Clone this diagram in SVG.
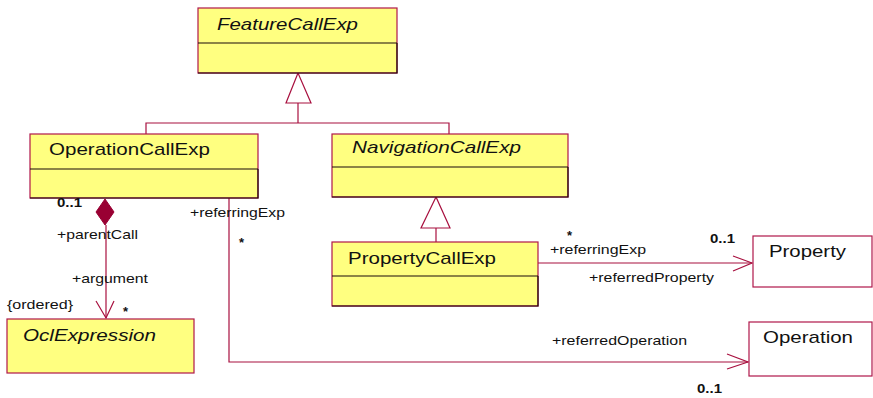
<svg xmlns="http://www.w3.org/2000/svg" width="873" height="398" viewBox="0 0 873 398">
<style>
.box{fill:#ffff80;stroke:#b0174a;stroke-width:1.2}
.wbox{fill:#ffffff;stroke:#b0174a;stroke-width:1.2}
.dk{stroke:#1a0a0a;stroke-width:1.2;fill:none}
.ln{stroke:#a8103f;stroke-width:1.2;fill:none}
.tri{fill:#ffffff;stroke:#a8103f;stroke-width:1.2}
.t{font-family:"Liberation Sans",Arial,sans-serif;font-size:17px;fill:#111}
.i{font-style:italic}
.s{font-family:"Liberation Sans",Arial,sans-serif;font-size:13px;fill:#111}
.b{font-weight:bold}
</style>
<g id="connectors">
  <polyline class="ln" points="146,134 146,123 449,123 449,134"/>
  <line class="ln" x1="298" y1="103" x2="298" y2="123"/>
  <polygon class="tri" points="298,73 286,103 311,103"/>
  <line class="ln" x1="436" y1="228" x2="436" y2="242"/>
  <polygon class="tri" points="436,197 421,228 450,228"/>
  <line class="ln" x1="538" y1="263" x2="752" y2="263"/>
  <polyline class="ln" points="733,256 752,263 733,271"/>
  <polyline class="ln" points="229,198 229,362 748,362"/>
  <polyline class="ln" points="727,354 748,362 727,369"/>
  <line class="ln" x1="106" y1="225" x2="106" y2="318"/>
  <polyline class="ln" points="96,301 106,318 114,301"/>
  <polygon points="105,199 96,212 105,225 114,212" fill="#990033" stroke="#990033" stroke-width="1"/>
</g>
<g id="FeatureCallExp">
  <rect class="box" x="198" y="8" width="199" height="65"/>
  <line class="dk" x1="198" y1="43" x2="397" y2="43"/>
  <polyline class="dk" points="397,43 397,73 198,73"/>
  <text class="t i" x="217" y="30" textLength="141" lengthAdjust="spacingAndGlyphs">FeatureCallExp</text>
</g>
<g id="OperationCallExp">
  <rect class="box" x="30" y="134" width="228" height="64"/>
  <line class="dk" x1="30" y1="169" x2="258" y2="169"/>
  <polyline class="dk" points="258,169 258,198 30,198"/>
  <text class="t" x="49" y="155" textLength="161" lengthAdjust="spacingAndGlyphs">OperationCallExp</text>
</g>
<g id="NavigationCallExp">
  <rect class="box" x="332" y="134" width="236" height="63"/>
  <line class="dk" x1="332" y1="167" x2="568" y2="167"/>
  <polyline class="dk" points="568,167 568,197 332,197"/>
  <text class="t i" x="352" y="153" textLength="169" lengthAdjust="spacingAndGlyphs">NavigationCallExp</text>
</g>
<g id="PropertyCallExp">
  <rect class="box" x="332" y="242" width="206" height="64"/>
  <line class="dk" x1="332" y1="276" x2="538" y2="276"/>
  <polyline class="dk" points="538,276 538,306 332,306"/>
  <text class="t" x="348" y="264" textLength="148" lengthAdjust="spacingAndGlyphs">PropertyCallExp</text>
</g>
<g id="OclExpression">
  <rect class="box" x="7" y="319" width="187" height="54"/>
  <text class="t i" x="23" y="341" textLength="133" lengthAdjust="spacingAndGlyphs">OclExpression</text>
</g>
<g id="Property">
  <rect class="wbox" x="753" y="236" width="119" height="51"/>
  <text class="t" x="769" y="257" textLength="77" lengthAdjust="spacingAndGlyphs">Property</text>
</g>
<g id="Operation">
  <rect class="wbox" x="749" y="322" width="123" height="54"/>
  <text class="t" x="763" y="343" textLength="90" lengthAdjust="spacingAndGlyphs">Operation</text>
</g>
<g id="labels">
  <text class="s b" x="57" y="207" textLength="25" lengthAdjust="spacingAndGlyphs">0..1</text>
  <text class="s" x="57" y="239" textLength="81" lengthAdjust="spacingAndGlyphs">+parentCall</text>
  <text class="s" x="72" y="283" textLength="76" lengthAdjust="spacingAndGlyphs">+argument</text>
  <text class="s" x="7" y="309" textLength="66" lengthAdjust="spacingAndGlyphs">{ordered}</text>
  <text class="s b" x="123" y="316">*</text>
  <text class="s" x="190" y="217" textLength="95" lengthAdjust="spacingAndGlyphs">+referringExp</text>
  <text class="s b" x="239" y="247">*</text>
  <text class="s b" x="567" y="240">*</text>
  <text class="s" x="550" y="254" textLength="96" lengthAdjust="spacingAndGlyphs">+referringExp</text>
  <text class="s b" x="710" y="243" textLength="25" lengthAdjust="spacingAndGlyphs">0..1</text>
  <text class="s" x="589" y="282" textLength="125" lengthAdjust="spacingAndGlyphs">+referredProperty</text>
  <text class="s" x="552" y="345" textLength="135" lengthAdjust="spacingAndGlyphs">+referredOperation</text>
  <text class="s b" x="697" y="393" textLength="25" lengthAdjust="spacingAndGlyphs">0..1</text>
</g>
</svg>
